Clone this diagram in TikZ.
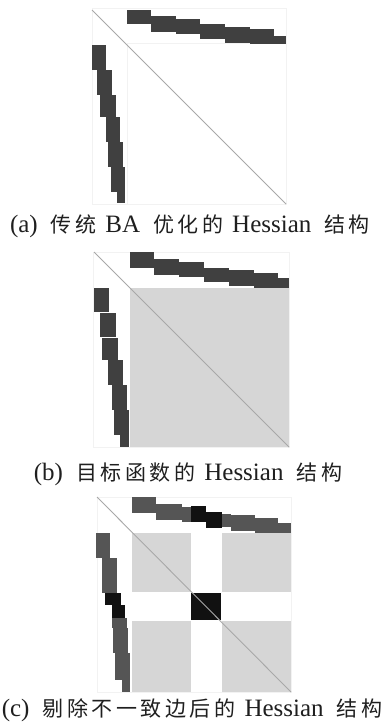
\documentclass[tikz,border=0pt]{standalone}
\usepackage{fontspec}
\setmainfont{Liberation Serif}
\newfontfamily\cjk{Noto Sans CJK SC}[LetterSpace=17]
\newcommand\zh[1]{{\cjk\fontsize{21}{25}\selectfont #1}}
\newcommand\gp{\hspace{13pt}}
\newcommand\gq{\hspace{9pt}}
\definecolor{bandgray}{HTML}{404040}
\definecolor{bandgrayc}{HTML}{555555}
\definecolor{blockfill}{HTML}{D6D6D6}
\definecolor{diaggray}{HTML}{A8A8A8}
\definecolor{framegray}{HTML}{F2F2F2}
\definecolor{nearblack}{HTML}{111111}
\tikzset{
  band/.style={fill=bandgray},
  bandc/.style={fill=bandgrayc},
  hot/.style={fill=nearblack},
  shade/.style={fill=blockfill},
  diag/.style={draw=diaggray, line width=0.9pt},
  frame/.style={draw=framegray, line width=0.8pt},
  caption/.style={inner sep=0pt, text=black!88, font=\fontsize{25}{28}\selectfont}
}
\begin{document}
\begin{tikzpicture}[x=1pt, y=-1pt]
\useasboundingbox (0,0) rectangle (387,726);

% ---------- (a) sparsity of the plain BA Hessian ----------
\draw[frame] (92,8) rectangle (286,204);
\draw[frame] (127,43) -- (286,43);
\draw[frame] (127,43) -- (127,204);
\foreach \xa/\xb/\ya/\yb in {127/151/10/24, 151/176/16/32, 176/200/19/34, 200/225/24/39,
                             225/250/27/43, 250/274/29/44, 274/286/36/44}
  \fill[band] (\xa,\ya) rectangle (\xb,\yb);
\foreach \xa/\xb/\ya/\yb in {92/106/45/70, 97/112/70/95, 100/116/95/117, 106/120/117/142,
                             108/123/142/167, 111/125/167/192, 117/125/192/203}
  \fill[band] (\xa,\ya) rectangle (\xb,\yb);
\draw[diag] (92,10) -- (286,204);
\node[caption] (capa) at (190,226)
  {(a)\gp\zh{传统}\gq BA\gp\zh{优化的}\gq Hessian\gp\zh{结构}};

% ---------- (b) Hessian of the objective ----------
\draw[frame] (93,252) rectangle (289,447);
\fill[shade] (130,288) rectangle (289,447);
\foreach \xa/\xb/\ya/\yb in {130/154/252/268, 154/179/259/275, 179/204/262/277, 204/229/268/282,
                             229/254/270/286, 254/278/273/288, 278/289/278/288}
  \fill[band] (\xa,\ya) rectangle (\xb,\yb);
\foreach \xa/\xb/\ya/\yb in {94/109/288/312, 100/116/313/337, 102/118/338/360, 108/123/360/385,
                             112/127/385/410, 114/129/410/435, 120/129/435/447}
  \fill[band] (\xa,\ya) rectangle (\xb,\yb);
\draw[diag] (94,252) -- (289,447);
\node[caption] (capb) at (188,474)
  {(b)\gp\zh{目标函数的}\gq Hessian\gp\zh{结构}};

% ---------- (c) Hessian after removing inconsistent edges ----------
\draw[frame] (97,497) rectangle (291,692);
\fill[shade] (132,533) rectangle (191,592);
\fill[shade] (222,533) rectangle (291,592);
\fill[shade] (132,621) rectangle (191,692);
\fill[shade] (222,621) rectangle (291,692);
\fill[hot] (191,593) rectangle (221,620);
\foreach \xa/\xb/\ya/\yb in {132/156/497/513, 156/182/504/520, 182/192/507/522,
                             222/231/514/527, 231/255/515/531, 255/278/518/533, 278/291/523/533}
  \fill[bandc] (\xa,\ya) rectangle (\xb,\yb);
\fill[hot] (191,506) rectangle (206,522);
\fill[hot] (206,512) rectangle (222,528);
\foreach \xa/\xb/\ya/\yb in {96/110/533/558, 102/117/558/593, 112/127/618/628,
                             113/128/628/653, 115/130/653/680, 122/130/680/692}
  \fill[bandc] (\xa,\ya) rectangle (\xb,\yb);
\fill[hot] (105,593) rectangle (121,605);
\fill[hot] (112,605) rectangle (125,618);
\draw[diag] (97,497) -- (291,692);
\node[caption] (capc) at (192,710)
  {(c)\gp\zh{剔除不一致边后的}\gq Hessian\gp\zh{结构}};
\end{tikzpicture}
\end{document}
